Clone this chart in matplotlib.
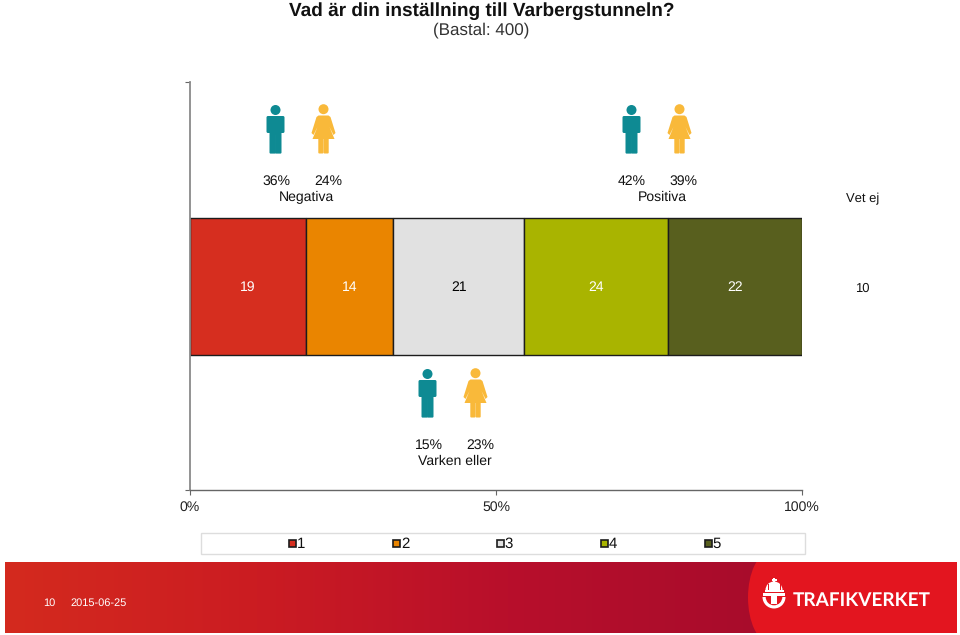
import numpy as np
import matplotlib
matplotlib.use('Agg')
import matplotlib.pyplot as plt
from matplotlib.colors import LinearSegmentedColormap
from matplotlib.patches import Circle, Polygon, FancyBboxPatch, Rectangle, Ellipse, Wedge

plt.rcParams['font.family'] = ['Liberation Sans', 'DejaVu Sans']
plt.rcParams['text.hinting'] = 'none'
plt.rcParams['text.hinting_factor'] = 1

W, H = 960, 635

# data
scale_labels = ['1', '2', '3', '4', '5']
values = [19.0, 14.2, 21.4, 23.55, 21.85]  # labels show these rounded
colors = ['#D62E1F', '#EA8500', '#E1E1E1', '#A9B400', '#585F1E']
dont_know = 10
groups = ['Negativa', 'Positiva', 'Varken eller']
men = [36, 42, 15]
women = [24, 39, 23]
xticks = [0, 50, 100]


def px_axes(left, top, right, bottom, **kw):
    return fig.add_axes([left / W, 1 - bottom / H, (right - left) / W, (bottom - top) / H], **kw)


fig = plt.figure(figsize=(W / 100, H / 100), dpi=100)

# chart
ax = px_axes(190, 82, 802, 490)
ax.set_xlim(0, 100)
ax.set_ylim(-1, 1)
left = 0
for val, col in zip(values, colors):
    ax.barh(0, val, left=left, height=137 / 204, color=col, edgecolor='#1c1c1c', linewidth=1)
    ax.text(left + val / 2, -0.008, f'{val:.0f}', ha='center', va='center', fontsize=10.2,
            color='black' if col == '#E1E1E1' else 'white')
    left += val
for s in ['top', 'right']:
    ax.spines[s].set_visible(False)
ax.spines['left'].set_color('#8a8a8a')
ax.spines['left'].set_linewidth(1.3)
ax.spines['bottom'].set_color('#666666')
ax.spines['bottom'].set_linewidth(1)
ax.set_xticks(xticks)
ax.set_xticklabels([f'{t}%' for t in xticks], fontsize=10.3, color='#222222')
ax.set_yticks([-1, 1])
ax.set_yticklabels([])
ax.tick_params(axis='both', color='#666666', length=3.5, width=0.8)
ax.tick_params(axis='x', pad=4.5)

# overlay in pixel coordinates for icons, annotations, legend
ov = px_axes(0, 0, W, H)
ov.set_xlim(0, W)
ov.set_ylim(H, 0)
ov.axis('off')
ov.patch.set_alpha(0)

ov.text(481.5, 15.5, 'Vad är din inställning till Varbergstunneln?', ha='center', va='baseline',
        fontsize=14, fontweight='bold', color='#111111')
ov.text(481, 30, '(Bastal: 400)', ha='center', va='center', fontsize=12, color='#333333')

MAN = '#0E8A93'
WOMAN = '#F9B93A'


def man(cx, top):
    ov.add_patch(Circle((cx, top + 5), 5, color=MAN, lw=0))
    ov.add_patch(FancyBboxPatch((cx - 7.5, top + 12.5), 15, 14, boxstyle='round,pad=1.5', color=MAN, lw=0))
    ov.add_patch(Rectangle((cx - 5.8, top + 20), 11.6, 10, color=MAN, lw=0))
    ov.add_patch(FancyBboxPatch((cx - 4.9, top + 28), 4.2, 19.5, boxstyle='round,pad=1.1', color=MAN, lw=0))
    ov.add_patch(FancyBboxPatch((cx + 0.7, top + 28), 4.2, 19.5, boxstyle='round,pad=1.1', color=MAN, lw=0))


def woman(cx, top):
    ov.add_patch(Circle((cx, top + 4.2), 5, color=WOMAN, lw=0))
    ov.add_patch(Polygon([(cx - 5, top + 10.5), (cx + 5, top + 10.5), (cx + 7, top + 12), (cx + 12, top + 28),
                          (cx + 10, top + 30), (cx + 6, top + 22), (cx + 11, top + 34), (cx - 11, top + 34),
                          (cx - 6, top + 22), (cx - 10, top + 30), (cx - 12, top + 28), (cx - 7, top + 12)],
                         closed=True, color=WOMAN, lw=0))
    ov.add_patch(FancyBboxPatch((cx - 4.2, top + 33), 3.2, 14.5, boxstyle='round,pad=1', color=WOMAN, lw=0))
    ov.add_patch(FancyBboxPatch((cx + 1.0, top + 33), 3.2, 14.5, boxstyle='round,pad=1', color=WOMAN, lw=0))


# man x, woman x, top, man label x, woman label x, name x
icon_pos = [(275.5, 323.5, 105, 276.5, 328, 306),
            (631.5, 679.5, 105, 632, 683.5, 662.5),
            (427.5, 475.5, 369, 429, 480.5, 455)]
for name, m, w, (mx, wx, top, mlx, wlx, nx) in zip(groups, men, women, icon_pos):
    man(mx, top)
    woman(wx, top)
    ov.text(mlx, top + 76, f'{m}%', ha='center', va='center', fontsize=10.3, color='#111111')
    ov.text(wlx, top + 76, f'{w}%', ha='center', va='center', fontsize=10.3, color='#111111')
    ov.text(nx, top + 92, name, ha='center', va='center', fontsize=10.3, color='#111111')

ov.text(862.5, 199, 'Vet ej', ha='center', va='center', fontsize=9.2, color='#111111')
ov.text(862.5, 289, str(dont_know), ha='center', va='center', fontsize=9.2, color='#111111')

# legend
ov.add_patch(Rectangle((200.5, 532.5), 604, 21, facecolor='white', edgecolor='#DDDDDD', lw=1))
for lab, col, mx, tx in zip(scale_labels, colors, [292, 396, 500, 604, 708], [301, 405, 509, 613, 717]):
    ov.add_patch(Rectangle((mx - 3.5, 539.5), 7, 7, facecolor=col, edgecolor='#1c1c1c', lw=1.2))
    ov.text(tx, 544, lab, ha='center', va='center', fontsize=10.8, color='#111111')

# footer band
foot = px_axes(5, 562, 957, 633)
cmap = LinearSegmentedColormap.from_list('foot', ['#D42A1E', '#CB1C22', '#B80F2B', '#A80C2C'])
foot.imshow(np.linspace(0, 1, 256)[None, :], extent=(5, 760, 633, 562), cmap=cmap, aspect='auto')
foot.add_patch(Rectangle((760, 562), 197, 71, color='#E3151F', lw=0))
foot.add_patch(Ellipse((770, 597.5), 44, 90, color='#E3151F', lw=0))
foot.set_xlim(5, 957)
foot.set_ylim(633, 562)
foot.axis('off')
foot.text(49.5, 603, '10', color='white', fontsize=8, ha='center', va='center')
foot.text(98.5, 603, '2015-06-25', color='white', fontsize=7.6, ha='center', va='center')
foot.text(793, 600.5, 'TRAFIKVERKET', color='white', fontsize=13.6, fontfamily='Lato', fontweight='bold',
          ha='left', va='center')

# logo emblem: crown, T and arc
foot.add_patch(Rectangle((773.2, 578), 1.6, 5, color='white', lw=0))
foot.add_patch(Rectangle((771.5, 579.5), 5, 1.3, color='white', lw=0))
foot.add_patch(Wedge((774, 590), 8.5, 180, 360, color='white', lw=0))
foot.add_patch(Rectangle((767.5, 584), 1, 6, color='#E3151F', lw=0))
foot.add_patch(Rectangle((779.5, 584), 1, 6, color='#E3151F', lw=0))
foot.add_patch(Rectangle((764.5, 590.5), 19, 1.6, color='white', lw=0))
foot.add_patch(Rectangle((763, 593.5), 22, 3, color='white', lw=0))
foot.add_patch(Rectangle((771, 596), 6, 8, color='white', lw=0))
foot.add_patch(Wedge((774, 597), 11.5, 0, 180, width=3.2, color='white', lw=0))

fig.savefig('out.png', dpi=100)
